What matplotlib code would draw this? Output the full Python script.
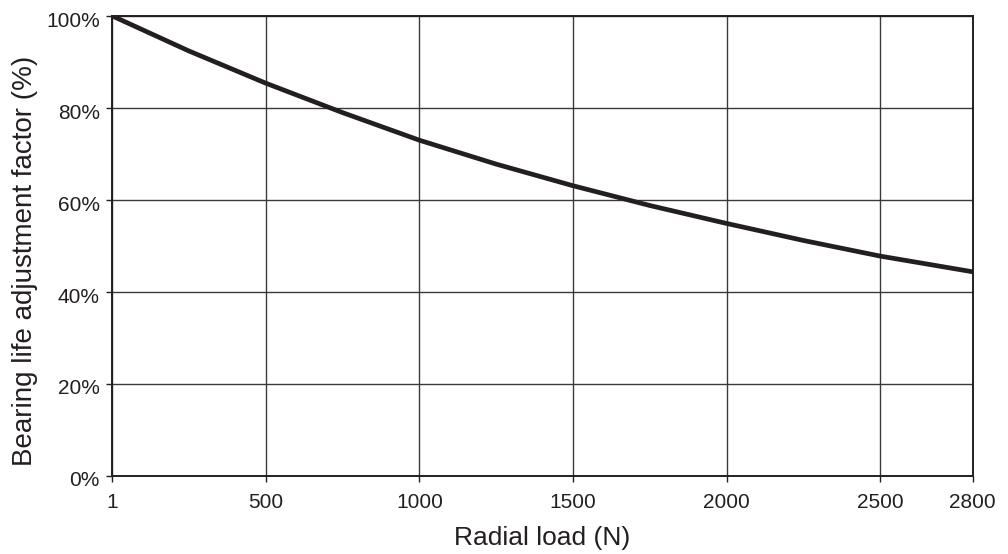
import matplotlib
matplotlib.use("Agg")
from matplotlib import pyplot as plt
from matplotlib.ticker import FuncFormatter
from matplotlib.transforms import ScaledTranslation

# Values
radial_load = [1, 250, 500, 750, 1000, 1250, 1500, 1750, 2000, 2250, 2500, 2800]
life_factor = [100, 92.4, 85.4, 79.0, 73.0, 67.8, 63.1, 58.8, 54.9, 51.2, 47.8, 44.4]

x_ticks = [1, 500, 1000, 1500, 2000, 2500, 2800]
y_ticks = [0, 20, 40, 60, 80, 100]

ink = "#231f20"

plt.rcParams["font.family"] = ["Liberation Sans", "DejaVu Sans"]

fig = plt.figure(figsize=(10.08, 5.54), dpi=100)
ax = fig.add_axes([0.1115, 0.1408, 0.8533, 0.8303])

ax.plot(radial_load, life_factor, color=ink, lw=3.4, solid_capstyle="butt", zorder=3)

ax.set_xlim(1, 2800)
ax.set_ylim(0, 100)
ax.set_xticks(x_ticks)
ax.set_yticks(y_ticks)
ax.yaxis.set_major_formatter(FuncFormatter(lambda v, p: f"{v:.0f}%"))

ax.grid(True, color="#3a3a3a", lw=1.0)
for s in ax.spines.values():
    s.set_color(ink)
    s.set_linewidth(1.4)

ax.tick_params(direction="out", length=4, width=1, color=ink,
               labelsize=15, labelcolor=ink)
ax.tick_params(axis="x", pad=8)
ax.tick_params(axis="y", pad=5)

# y tick labels sit a little below their ticks in the reference
shift = ScaledTranslation(0, -3 / 100, fig.dpi_scale_trans)
for lbl in ax.get_yticklabels():
    lbl.set_transform(lbl.get_transform() + shift)

ax.set_xlabel("Radial load (N)", fontsize=19, color=ink, labelpad=10)
ax.set_ylabel("Bearing life adjustment factor (%)", fontsize=20, color=ink)
ax.yaxis.set_label_coords(-0.087, 0.467)

fig.savefig("out.png", dpi=100)
